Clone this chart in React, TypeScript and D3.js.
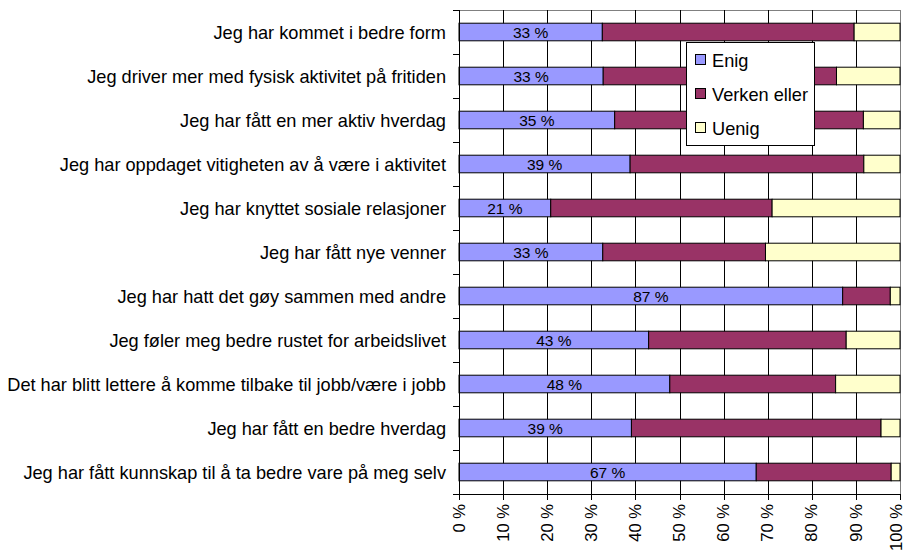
import React from "react";
import * as d3 from "d3";

const categories = [
  "Jeg har kommet i bedre form",
  "Jeg driver mer med fysisk aktivitet på fritiden",
  "Jeg har fått en mer aktiv hverdag",
  "Jeg har oppdaget vitigheten av å være i aktivitet",
  "Jeg har knyttet sosiale relasjoner",
  "Jeg har fått nye venner",
  "Jeg har hatt det gøy sammen med andre",
  "Jeg føler meg bedre rustet for arbeidslivet",
  "Det har blitt lettere å komme tilbake til jobb/være i jobb",
  "Jeg har fått en bedre hverdag",
  "Jeg har fått kunnskap til å ta bedre vare på meg selv",
];

const enig = [32.5, 32.7, 35.3, 38.8, 20.8, 32.6, 87.0, 43.0, 47.8, 39.1, 67.4];
const verken = [57.1, 52.9, 56.4, 53.0, 50.2, 36.9, 10.8, 44.8, 37.6, 56.6, 30.6];
const uenig = [10.4, 14.4, 8.3, 8.2, 29.0, 30.5, 2.2, 12.2, 14.6, 4.3, 2.0];

const seriesNames = ["Enig", "Verken eller", "Uenig"];
const seriesColors = ["#9999FF", "#993366", "#FFFFCC"];
const xTicks = [0, 10, 20, 30, 40, 50, 60, 70, 80, 90, 100];

const W = 908;
const H = 554;
const left = 459;
const right = 900;
const top = 10;
const bottom = 494;
const FONT = "'Liberation Sans', Arial, sans-serif";

export default function App() {
  const x = d3.scaleLinear().domain([0, 100]).range([left, right]);
  const y = d3
    .scaleBand<string>()
    .domain(categories)
    .range([top, bottom])
    .paddingInner(0.6)
    .paddingOuter(0.3);

  const rows = categories.map((c, i) => ({ c, vals: [enig[i], verken[i], uenig[i]] }));
  const stack = d3.stack<any>().keys(["0", "1", "2"]).value((d, k) => d.vals[+k]);
  const stacked = stack(rows);
  const boundaries = d3.range(categories.length + 1).map((i) => top + i * ((bottom - top) / categories.length));

  const legendY = [60, 94, 128];

  return (
    <svg
      width={W}
      height={H}
      style={{ position: "absolute", left: 0, top: 0, background: "#fff" }}
      fontFamily={FONT}
    >
      <rect x={0} y={0} width={W} height={H} fill="#fff" />
      {/* plot border (gray) */}
      <line x1={left} x2={right} y1={top + 0.5} y2={top + 0.5} stroke="#808080" />
      <line x1={right + 0.5} x2={right + 0.5} y1={top} y2={bottom} stroke="#808080" />
      {/* gridlines */}
      {xTicks.slice(1, -1).map((t) => (
        <line
          key={"g" + t}
          x1={Math.round(x(t)) + 0.5}
          x2={Math.round(x(t)) + 0.5}
          y1={top}
          y2={bottom}
          stroke="#000"
          strokeWidth={1}
        />
      ))}
      {/* bars */}
      {stacked.map((layer, si) =>
        layer.map((d, i) => (
          <rect
            key={si + "-" + i}
            x={x(d[0])}
            width={x(d[1]) - x(d[0])}
            y={y(categories[i])!}
            height={y.bandwidth()}
            fill={seriesColors[si]}
            stroke="#000"
            strokeWidth={1}
          />
        ))
      )}
      {/* bar labels */}
      {enig.map((v, i) => (
        <text
          key={"bl" + i}
          x={(x(0) + x(v)) / 2}
          y={y(categories[i])! + y.bandwidth() / 2}
          dy="0.36em"
          textAnchor="middle"
          fontSize={15.5}
          fill="#000"
        >
          {Math.round(v) + " %"}
        </text>
      ))}
      {/* y axis */}
      <line x1={left + 0.5} x2={left + 0.5} y1={top} y2={bottom} stroke="#000" />
      {boundaries.map((b, i) => (
        <line key={"yt" + i} x1={left - 6} x2={left} y1={Math.round(b) + 0.5} y2={Math.round(b) + 0.5} stroke="#000" />
      ))}
      {categories.map((c) => (
        <text
          key={"cl" + c}
          x={446}
          y={y(c)! + y.bandwidth() / 2}
          dy="0.36em"
          textAnchor="end"
          fontSize={18.2}
          fill="#000"
        >
          {c}
        </text>
      ))}
      {/* x axis */}
      <line x1={left - 6} x2={right + 1} y1={bottom + 0.5} y2={bottom + 0.5} stroke="#000" />
      {xTicks.map((t) => (
        <line
          key={"xt" + t}
          x1={Math.round(x(t)) + 0.5}
          x2={Math.round(x(t)) + 0.5}
          y1={bottom}
          y2={bottom + 6}
          stroke="#000"
        />
      ))}
      {xTicks.map((t) => (
        <text
          key={"xl" + t}
          transform={`translate(${Math.min(x(t), W - 12)},${bottom + 10}) rotate(-90)`}
          dy="0.34em"
          textAnchor="end"
          fontSize={16.6}
          fill="#000"
        >
          {t + " %"}
        </text>
      ))}
      {/* legend */}
      <rect x={686.5} y={42.5} width={128} height={103} fill="#fff" stroke="#000" />
      {seriesNames.map((n, i) => (
        <g key={"lg" + n}>
          <rect x={695.5} y={legendY[i] - 5.5} width={10} height={10} fill={seriesColors[i]} stroke="#000" />
          <text x={712} y={legendY[i]} dy="0.36em" fontSize={18.2} fill="#000">
            {n}
          </text>
        </g>
      ))}
    </svg>
  );
}
